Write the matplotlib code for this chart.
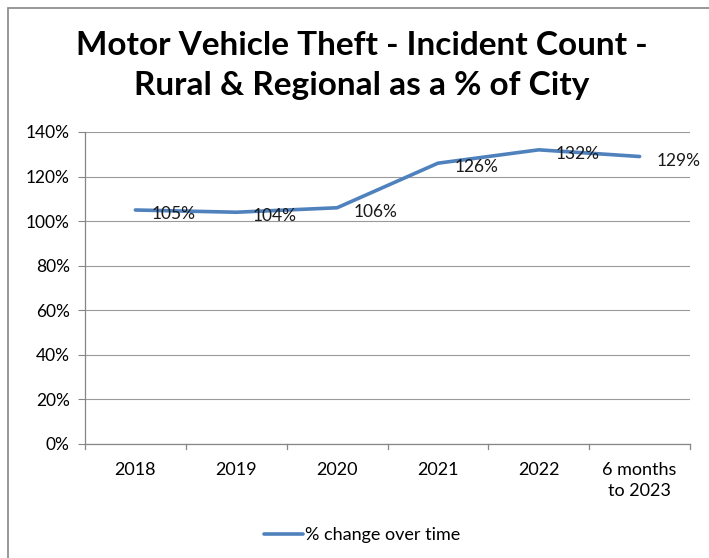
import matplotlib.pyplot as plt
from matplotlib.patches import Rectangle
from matplotlib.ticker import FuncFormatter

categories = ["2018", "2019", "2020", "2021", "2022", "6 months\nto 2023"]
values = [105, 104, 106, 126, 132, 129]
point_labels = ["105%", "104%", "106%", "126%", "132%", "129%"]
series_name = "% change over time"

# Lato is the base of Carlito, so it's the closest thing to Calibri here
plt.rcParams['font.family'] = ['Lato', 'DejaVu Sans']

fig = plt.figure(figsize=(7.09, 5.58), dpi=100)
W, H = 709, 558
ax = fig.add_axes([85 / W, 1 - 444 / H, 605 / W, 312 / H])

x = list(range(len(values)))
line, = ax.plot(x, values, color='#4F81BD', lw=2.6, solid_capstyle='round', label=series_name)
for xi, v, lab in zip(x, values, point_labels):
    ax.annotate(lab, (xi, v), xytext=(12, -3), textcoords='offset points',
                ha='left', va='center', fontsize=12.5, color='#1a1a1a')

ax.set_xlim(-0.5, len(values) - 0.5)
ax.set_ylim(0, 140)
ax.set_yticks(range(0, 141, 20))
ax.yaxis.set_major_formatter(FuncFormatter(lambda v, p: f"{int(v)}%"))
ax.set_xticks(x)
ax.set_xticklabels(categories, fontsize=13, linespacing=1.35)
ax.tick_params(axis='y', labelsize=12.5, length=5, color='#868686', pad=6)
ax.tick_params(axis='x', length=0, pad=13)
for b in [i - 0.5 for i in range(len(values) + 1)]:
    ax.plot([b, b], [0, -2.2], color='#868686', lw=0.9, clip_on=False)
ax.grid(axis='y', color='#9a9a9a', lw=0.8)
ax.set_axisbelow(True)
for s in ['top', 'right']:
    ax.spines[s].set_visible(False)
for s in ['left', 'bottom']:
    ax.spines[s].set_color('#868686')
    ax.spines[s].set_linewidth(0.9)

fig.suptitle("Motor Vehicle Theft - Incident Count -\nRural & Regional as a % of City",
             x=362 / W, y=1 - 31 / H, va='top', fontsize=24, fontweight='bold', linespacing=1.45)

fig.legend(handles=[line], loc='center', bbox_to_anchor=(362 / W, 1 - 535 / H),
           frameon=False, fontsize=13, handlelength=2.2, handletextpad=0.1)

fig.patches.append(Rectangle((8 / W, -0.1), 1.2, 1 - 8 / H + 0.1, transform=fig.transFigure,
                             fill=False, edgecolor='#868686', lw=1.2))

fig.savefig("out.png", dpi=100)
